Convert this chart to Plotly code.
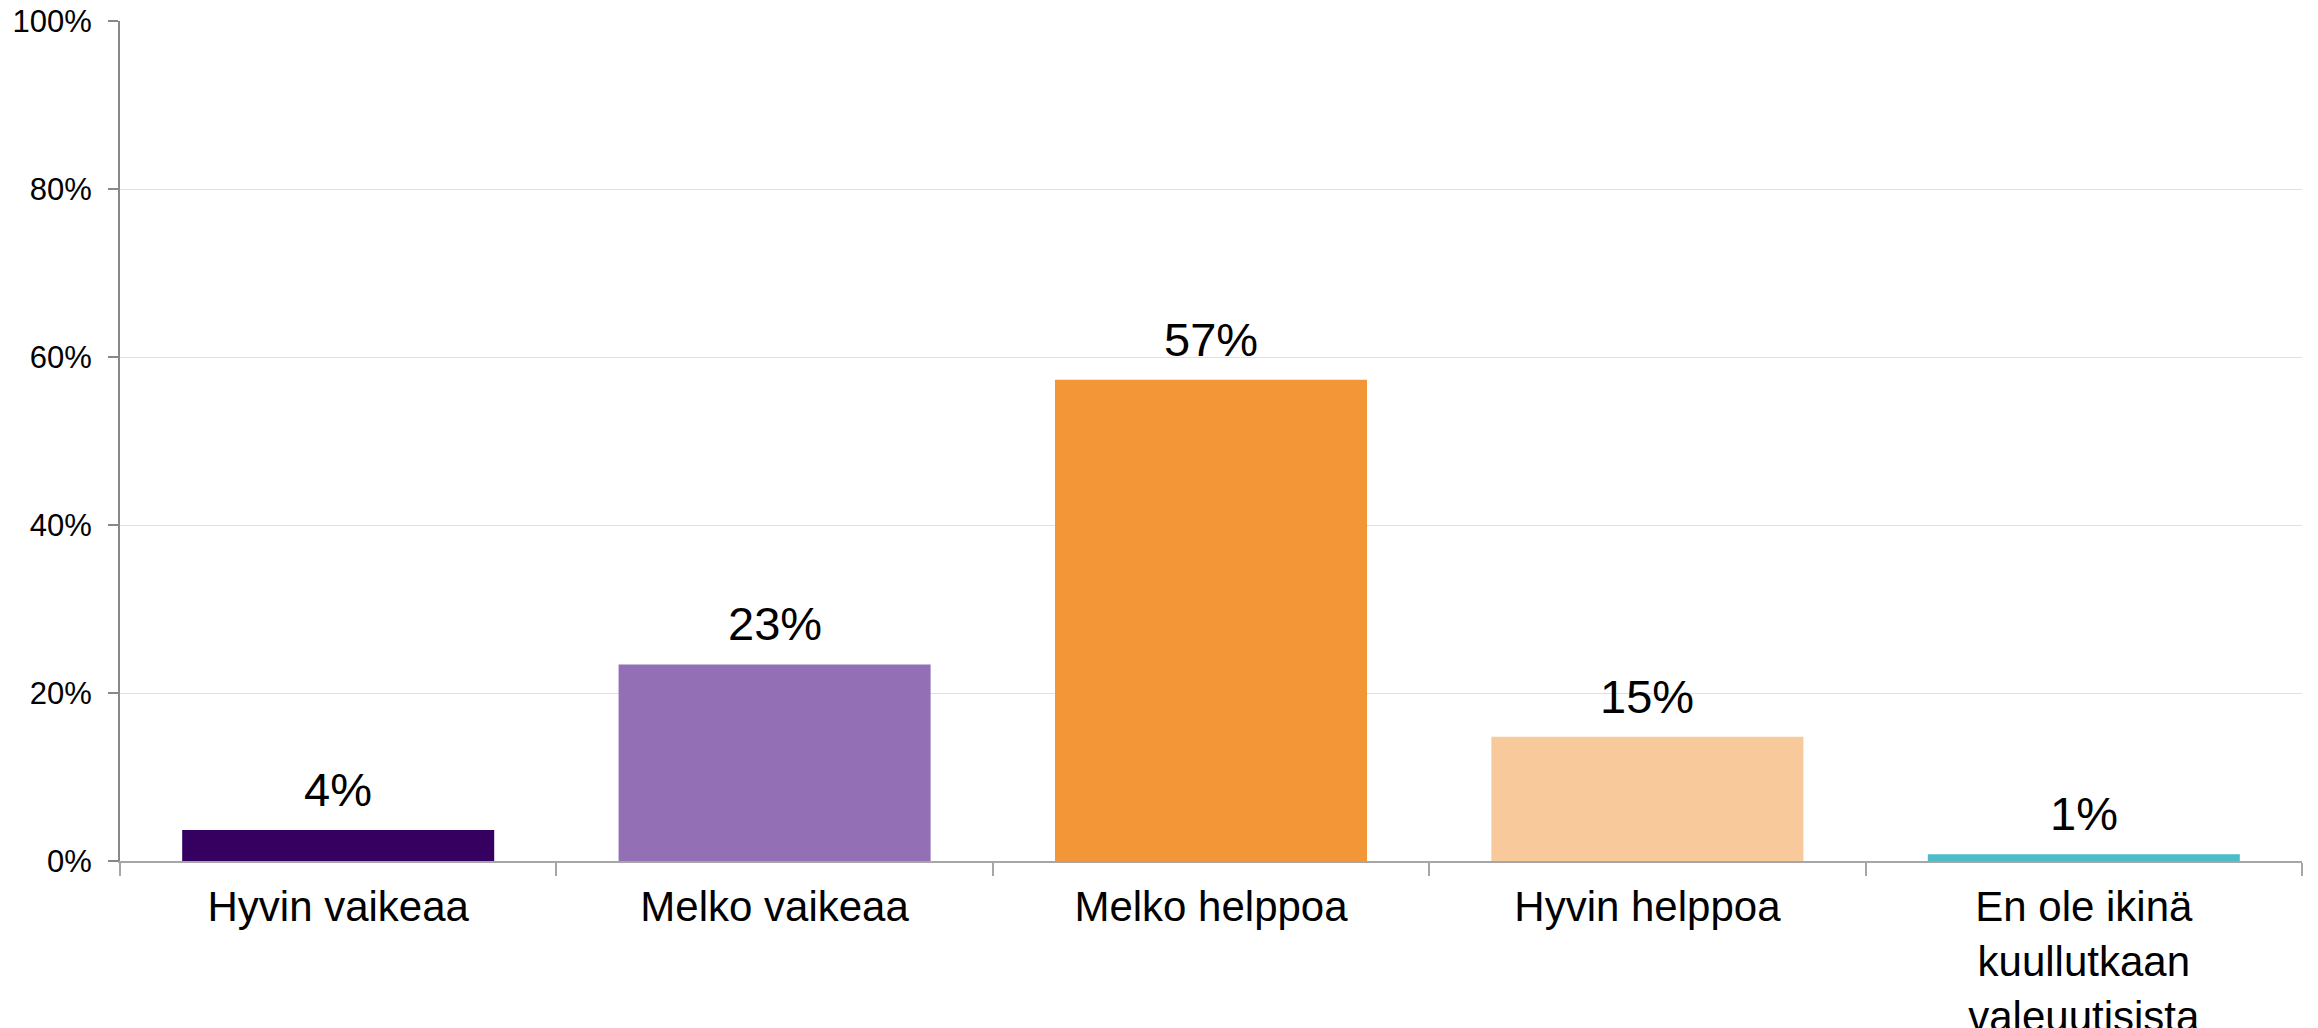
import plotly.graph_objects as go

categories = ["Hyvin vaikeaa", "Melko vaikeaa", "Melko helppoa", "Hyvin helppoa",
              "En ole ikinä<br>kuullutkaan<br>valeuutisista"]
values = [3.7, 23.4, 57.3, 14.8, 0.8]
labels = ["4%", "23%", "57%", "15%", "1%"]
colors = ["#350060", "#9370B5", "#F39638", "#F8CA9B", "#4BBCC8"]
y_ticks = [0, 20, 40, 60, 80, 100]
y_tick_text = ["0%", "20%", "40%", "60%", "80%", "100%"]

FONT = "Liberation Sans, Arial, sans-serif"

fig = go.Figure(go.Bar(
    x=categories, y=values, marker=dict(color=colors, line=dict(width=0)),
    width=0.715,
))

for c, v, t in zip(categories, values, labels):
    fig.add_annotation(x=c, y=v, text=t, showarrow=False, yanchor="bottom",
                       yshift=12, font=dict(size=47, color="#000000", family=FONT))

fig.update_layout(
    width=2310, height=1020,
    margin=dict(l=112, r=16, t=13, b=167),
    paper_bgcolor="white", plot_bgcolor="white",
    font=dict(family=FONT, color="#000000"),
    showlegend=False,
)
fig.update_xaxes(
    showline=True, linecolor="#A6A6A6", linewidth=2,
    ticks="outside", tickson="boundaries", ticklen=13, tickcolor="#A6A6A6", tickwidth=2,
    tickfont=dict(size=42), showgrid=False, automargin=False, ticklabelstandoff=8,
    ticklabeloverflow="allow",
)
fig.update_yaxes(
    range=[0, 100], tickvals=y_ticks, ticktext=y_tick_text,
    showline=True, linecolor="#888888", linewidth=2,
    ticks="outside", ticklen=10, tickcolor="#888888", tickwidth=2,
    tickfont=dict(size=31), gridcolor="#E0E0E0", gridwidth=1, zeroline=False,
    automargin=False, ticklabelstandoff=10, ticklabeloverflow="allow",
)

fig.write_html("out.html")
